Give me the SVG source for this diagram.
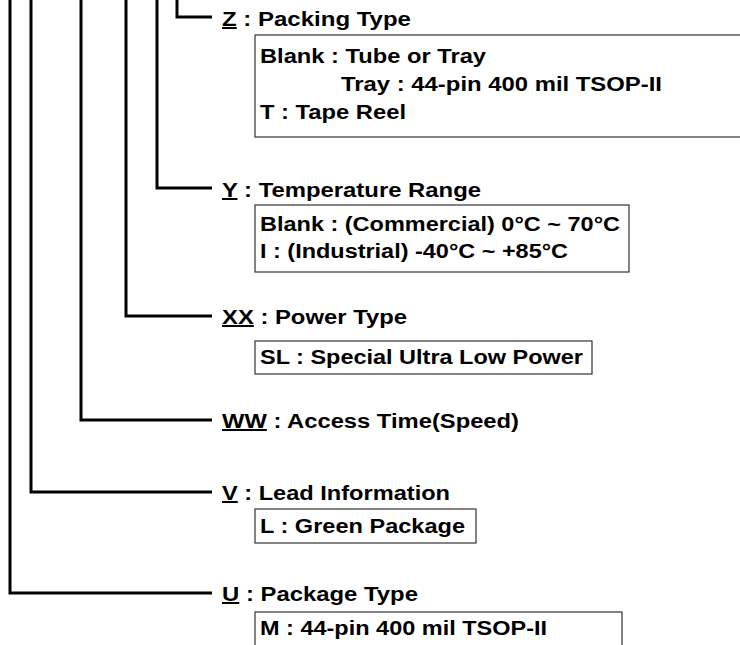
<svg xmlns="http://www.w3.org/2000/svg" width="740" height="645" viewBox="0 0 740 645">
<style>
text{font-family:"Liberation Sans",Arial,sans-serif;font-weight:bold;font-size:20px;fill:#000}
.u{text-decoration:underline}
.box{fill:none;stroke:#333;stroke-width:1.2}
.c{fill:none;stroke:#000;stroke-width:3}
</style>
<rect width="740" height="645" fill="#fff"/>
<g id="connectors">
<polyline class="c" points="177,0 177,17 212,17"/>
<polyline class="c" points="157,0 157,188 212,188"/>
<polyline class="c" points="126,0 126,316 212,316"/>
<polyline class="c" points="81,0 81,420 212,420"/>
<polyline class="c" points="31,0 31,492 212,492"/>
<polyline class="c" points="10,0 10,593 212,593"/>
</g>
<g id="Z">
<text x="222" y="26" textLength="189" lengthAdjust="spacingAndGlyphs"><tspan class="u">Z</tspan> : Packing Type</text>
<rect class="box" x="255" y="35" width="490" height="102"/>
<text x="260" y="63" textLength="226" lengthAdjust="spacingAndGlyphs">Blank : Tube or Tray</text>
<text x="341" y="91" textLength="321" lengthAdjust="spacingAndGlyphs">Tray : 44-pin 400 mil TSOP-II</text>
<text x="260" y="119" textLength="146" lengthAdjust="spacingAndGlyphs">T : Tape Reel</text>
</g>
<g id="Y">
<text x="222" y="197" textLength="259" lengthAdjust="spacingAndGlyphs"><tspan class="u">Y</tspan> : Temperature Range</text>
<rect class="box" x="255" y="205" width="374" height="67"/>
<text x="260" y="231" textLength="360" lengthAdjust="spacingAndGlyphs">Blank : (Commercial) 0°C ~ 70°C</text>
<text x="260" y="258" textLength="308" lengthAdjust="spacingAndGlyphs">I : (Industrial) -40°C ~ +85°C</text>
</g>
<g id="XX">
<text x="222" y="324" textLength="185" lengthAdjust="spacingAndGlyphs"><tspan class="u">XX</tspan> : Power Type</text>
<rect class="box" x="255" y="341" width="337" height="33"/>
<text x="260" y="364" textLength="323" lengthAdjust="spacingAndGlyphs">SL : Special Ultra Low Power</text>
</g>
<g id="WW">
<text x="222" y="428" textLength="297" lengthAdjust="spacingAndGlyphs"><tspan class="u">WW</tspan> : Access Time(Speed)</text>
</g>
<g id="V">
<text x="222" y="500" textLength="228" lengthAdjust="spacingAndGlyphs"><tspan class="u">V</tspan> : Lead Information</text>
<rect class="box" x="255" y="509" width="221" height="34"/>
<text x="260" y="533" textLength="205" lengthAdjust="spacingAndGlyphs">L : Green Package</text>
</g>
<g id="U">
<text x="222" y="601" textLength="196" lengthAdjust="spacingAndGlyphs"><tspan class="u">U</tspan> : Package Type</text>
<rect class="box" x="255" y="612" width="367" height="40"/>
<text x="260" y="635" textLength="287" lengthAdjust="spacingAndGlyphs">M : 44-pin 400 mil TSOP-II</text>
</g>
</svg>
